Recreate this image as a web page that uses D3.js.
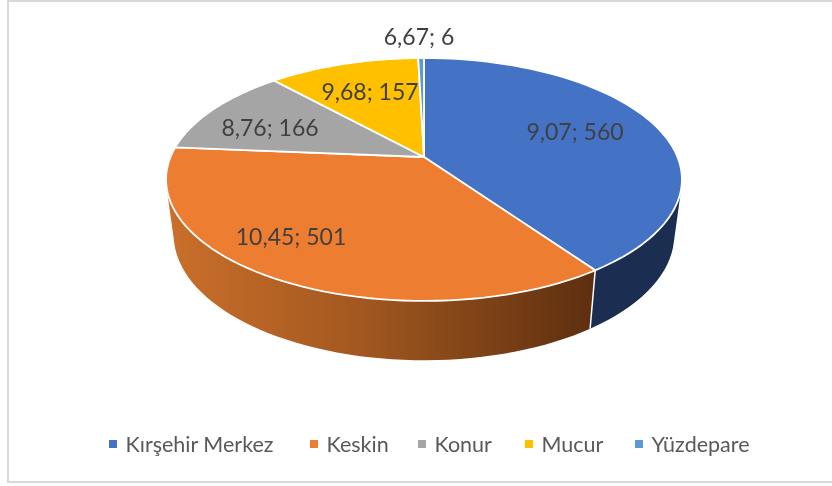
<!DOCTYPE html>
<html><head><meta charset="utf-8">
<script src="https://cdn.jsdelivr.net/npm/d3@7"></script>
<style>html,body{margin:0;background:#fff}svg{display:block;filter:blur(0.4px)}text{font-family:Lato,"Open Sans",sans-serif}</style>
</head><body><svg id="c" width="832" height="486"></svg>
<script>
const categories=["Kırşehir Merkez","Keskin","Konur","Mucur","Yüzdepare"];
const values=[560,501,166,157,6];
const rates=["9,07","10,45","8,76","9,68","6,67"];
const colors=["#4472c4","#ed7d31","#a5a5a5","#ffc000","#5b9bd5"];

const svg=d3.select("#c");
// frame: top, left and bottom edges only
[[7,1,832,1],[8,1,8,482],[7,482,832,482]].forEach(l=>svg.append("line").attr("x1",l[0]).attr("y1",l[1]).attr("x2",l[2]).attr("y2",l[3]).attr("stroke","#d9d9d9").attr("stroke-width",2));

// perspective projection of the pie disc
const cx=424,cy=157,A=117.3,C=253.5,k=-0.185,depthY=55,shrinkX=0.97,shrinkY=1.03;
const project=(ang)=>{const X=Math.sin(ang),Y=-Math.cos(ang),w=1+k*Y;return [C*X/w,A*Y/w];};
const topPt=a=>{const p=project(a);return [cx+p[0],cy+p[1]];};
const botPt=a=>{const p=project(a);return [cx+p[0]*shrinkX,cy+depthY+p[1]*shrinkY];};
const arcs=d3.pie().sort(null)(values);
const samples=(a0,a1)=>d3.range(0,61).map(i=>a0+(a1-a0)*i/60);
const line=d3.line();
const defs=svg.append("defs");
const grad=defs.append("linearGradient").attr("id","sideO").attr("gradientUnits","userSpaceOnUse").attr("x1",166).attr("x2",592).attr("y1",0).attr("y2",0);
[[0,"#cb6f2b"],[0.45,"#a3581f"],[1,"#5e2f10"]].forEach(s=>grad.append("stop").attr("offset",s[0]).attr("stop-color",s[1]));
const sideFill=["#1b2e52","url(#sideO)","#666","#997300","#375d80"];

// sides: union of the swept quads between the top rim and the bottom rim
arcs.forEach((d,i)=>{
  if(d.endAngle<Math.PI/2||d.startAngle>3*Math.PI/2+0.2)return;
  const s=samples(d.startAngle,d.endAngle);
  const quads=d3.pairs(s).map(([a,b])=>{
    const q=[topPt(a),topPt(b),botPt(b),botPt(a)];
    if(d3.polygonArea(q)<0)q.reverse();
    return line(q)+"Z";
  }).join("");
  svg.append("path").attr("d",quads).attr("fill",sideFill[i]);
});
const seam=arcs[0].endAngle;
svg.append("path").attr("d",line([topPt(seam),botPt(seam)])).attr("stroke","#fff").attr("stroke-width",1.5);
// top faces
arcs.forEach((d,i)=>{
  const s=samples(d.startAngle,d.endAngle);
  svg.append("path").attr("d",line([[cx,cy]].concat(s.map(topPt)))+"Z")
    .attr("fill",colors[i]).attr("stroke","#fff").attr("stroke-width",1.8).attr("stroke-linejoin","round");
});
// labels
const labelAt=[[575,132],[291,237],[270,128],[370,92],[419,37]];
rates.forEach((r,i)=>svg.append("text").attr("x",labelAt[i][0]).attr("y",labelAt[i][1]).attr("dy","0.35em")
  .attr("text-anchor","middle").attr("font-size",23).attr("fill","#404040").text(r+"; "+values[i]));
// legend
const legX=[109,310,418,525,635];
categories.forEach((c,i)=>{
  const g=svg.append("g").attr("transform",`translate(${legX[i]},444)`);
  g.append("rect").attr("x",0).attr("y",-4).attr("width",8).attr("height",8).attr("fill",colors[i]);
  g.append("text").attr("x",16.5).attr("dy","0.35em").attr("font-size",21.5).attr("fill","#595959").text(c);
});
</script></body></html>
